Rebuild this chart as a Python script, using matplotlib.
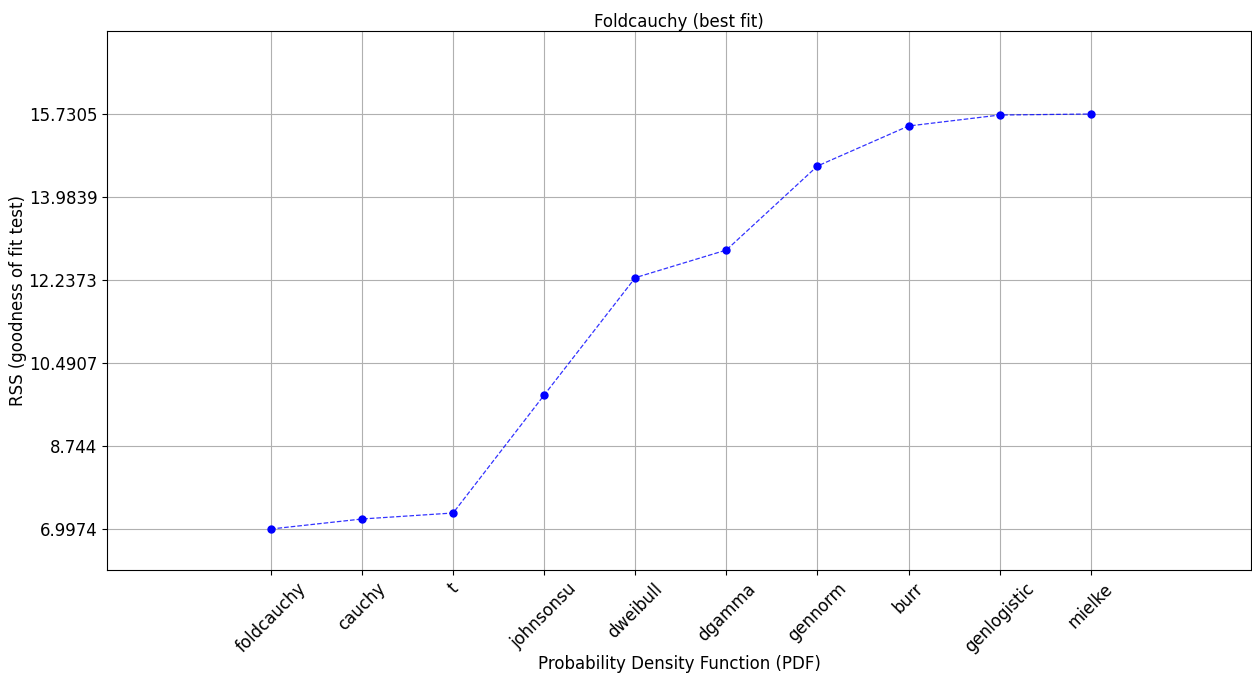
import matplotlib
matplotlib.use("Agg")
import matplotlib.pyplot as plt
import numpy as np

# RSS score of each fitted probability density function
distributions = ["foldcauchy", "cauchy", "t", "johnsonsu", "dweibull",
                 "dgamma", "gennorm", "burr", "genlogistic", "mielke"]
rss_scores = [6.9974, 7.208, 7.334, 9.817, 12.286,
              12.868, 14.636, 15.478, 15.709, 15.7305]
ytick_labels = ["6.9974", "8.744", "10.4907", "12.2373", "13.9839", "15.7305"]

fig = plt.figure(figsize=(12.52, 6.75), dpi=100)
ax = fig.add_axes([107 / 1252, 1 - 570 / 675, (1251 - 107) / 1252, (570 - 31) / 675])

x = np.arange(len(distributions))
ax.plot(x, rss_scores, "--", color="blue", linewidth=0.9, alpha=0.8)
ax.plot(x, rss_scores, "o", color="blue", markersize=5, linestyle="none")

yticks = [float(t) for t in ytick_labels]
ax.set_yticks(yticks)
ax.set_yticklabels(ytick_labels, fontsize=12)
ax.set_xticks(x)
ax.set_xticklabels(distributions, rotation=45, fontsize=12)

ax.set_xlim(-1.8, 10.76)
ax.set_ylim(yticks[0] - 0.863, yticks[-1] + 1.747)

ax.grid(True, color="#b0b0b0", linewidth=0.8)
ax.set_axisbelow(True)
ax.set_title("Foldcauchy (best fit)", fontsize=12, pad=3)
ax.set_xlabel("Probability Density Function (PDF)", fontsize=12)
ax.xaxis.set_label_coords(0.5, -0.158)
ax.set_ylabel("RSS (goodness of fit test)", fontsize=12)
ax.yaxis.set_label_coords(-0.07, 0.5)

fig.savefig("out.png", dpi=100)
